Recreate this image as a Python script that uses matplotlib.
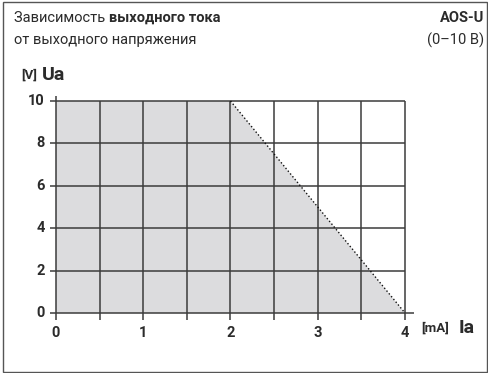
import matplotlib
matplotlib.use("Agg")
import matplotlib.pyplot as plt
from matplotlib.patches import Rectangle
import numpy as np

plt.rcParams["font.family"] = ["Roboto", "DejaVu Sans"]

# working region: output voltage vs output current
region_ia = [0, 0, 2, 4]      # mA
region_ua = [0, 10, 10, 0]    # V
limit_ia = [2, 4]
limit_ua = [10, 0]

x_ticks = [0, 1, 2, 3, 4]
y_ticks = [0, 2, 4, 6, 8, 10]
x_grid = np.arange(0, 4.01, 0.5)
y_grid = [0, 2, 4, 6, 8, 10]

TXT = "#2b2b2b"
GRID = "#3c3c3c"
FILL = "#dcdcde"

fig = plt.figure(figsize=(4.89, 3.73), dpi=100)
fig.patches.append(Rectangle((3 / 489, 1 / 373), 484 / 489, 370 / 373,
                             transform=fig.transFigure, fill=False,
                             ec="#555555", lw=1.0))

# axes box placed so that x 0..4 -> 56..405 px, y 0..10 -> 313..101 px
W, H = 489, 373
xpx = 87.25
ypx = 21.2
xl, xr = -0.07, 4.1
yb, yt = -0.35, 10.25
left = 56 + xl * xpx
right = 56 + xr * xpx
bottom = 313 - yb * ypx
top = 313 - yt * ypx
ax = fig.add_axes([left / W, 1 - bottom / H, (right - left) / W, (bottom - top) / H])
ax.set_xlim(xl, xr)
ax.set_ylim(yb, yt)
ax.axis("off")

ax.fill(region_ia, region_ua, color=FILL, lw=0, zorder=1)

for gx in x_grid:
    top_y = yt if gx == 0 else 10
    ax.plot([gx, gx], [yb, top_y], color=GRID, lw=1.1, zorder=2, solid_capstyle="butt")
for gy in y_grid:
    right_x = xr if gy == 0 else 4
    ax.plot([xl, right_x], [gy, gy], color=GRID, lw=1.1, zorder=2, solid_capstyle="butt")

ax.plot(limit_ia, limit_ua, color="#111111", lw=1.0, ls=(0, (1, 1.6)), zorder=3)

for v in y_ticks:
    ax.text(-0.13, v, str(v), ha="right", va="center", fontsize=10.5,
            fontweight="bold", color=TXT)
for v in x_ticks:
    ax.text(v, -0.6, str(v), ha="center", va="top", fontsize=10.5,
            fontweight="bold", color=TXT)

# titles and axis names
t1 = fig.text(14 / W, 1 - 18 / H, "Зависимость ", ha="left", va="center",
              fontsize=10.5, color=TXT)
fig.canvas.draw()
bb = t1.get_window_extent()
fig.text(bb.x1 / W, 1 - 18 / H, "выходного тока", ha="left", va="center",
         fontsize=10.5, fontweight="bold", color=TXT)
fig.text(14 / W, 1 - 40 / H, "от выходного напряжения", ha="left", va="center",
         fontsize=10.5, color=TXT)
fig.text(484 / W, 1 - 18 / H, "AOS-U", ha="right", va="center",
         fontsize=10.5, fontweight="bold", color=TXT)
fig.text(484 / W, 1 - 40 / H, "(0–10 В)", ha="right", va="center",
         fontsize=10.5, color=TXT)

fig.text(21 / W, 1 - 75 / H, "[V]", ha="left", va="center",
         fontsize=9.5, fontweight="bold", color=TXT)
fig.text(42 / W, 1 - 75 / H, "Ua", ha="left", va="center",
         fontsize=14, fontweight="bold", color=TXT)
fig.text(421 / W, 1 - 328 / H, "[mA]", ha="left", va="center",
         fontsize=9.5, fontweight="bold", color=TXT)
fig.text(459 / W, 1 - 328 / H, "Ia", ha="left", va="center",
         fontsize=14, fontweight="bold", color=TXT)

fig.savefig("out.png", dpi=100)
